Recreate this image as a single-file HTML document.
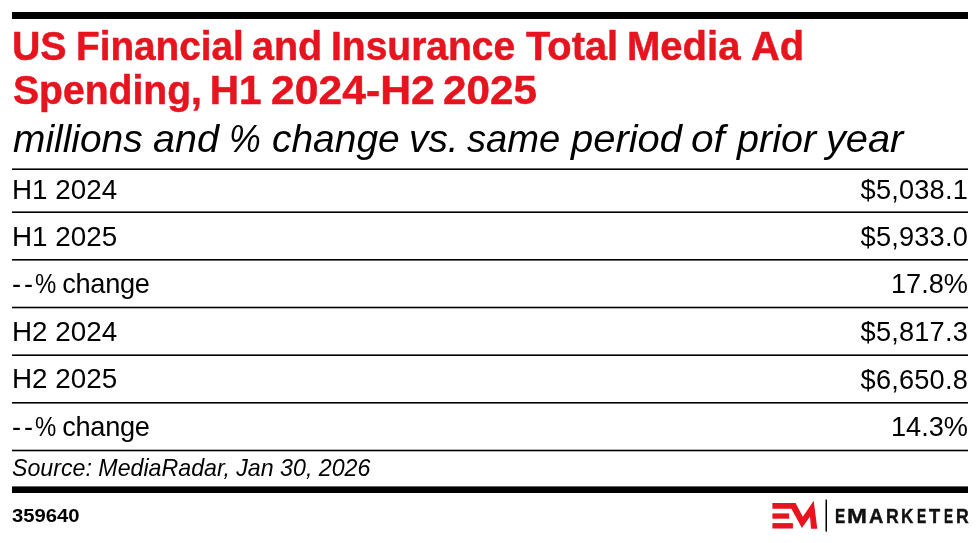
<!DOCTYPE html>
<html><head><meta charset="utf-8">
<style>
html,body{margin:0;padding:0;background:#fff;}
body{width:980px;height:543px;position:relative;overflow:hidden;will-change:transform;font-family:"Liberation Sans",sans-serif;color:#000;}
.a{position:absolute;white-space:nowrap;line-height:1;}
.bar{position:absolute;left:12px;width:956px;background:#000;}
.ln{position:absolute;left:12px;width:956px;height:1px;background:#000;}
.tl,.sl{position:absolute;left:0;top:0;width:980px;height:50px;line-height:1;white-space:nowrap;}
.tl span,.sl span{position:absolute;top:0;transform-origin:0 0;}
.tl{font-weight:bold;color:#e6141e;font-size:40.5px;-webkit-text-stroke:.5px #e6141e;}
.sl{font-style:italic;font-size:38.9px;}
.lab{font-size:27.8px;left:12px;letter-spacing:0;}
.val{font-size:27.2px;right:12px;text-align:right;letter-spacing:.2px;}
.src{font-style:italic;font-size:23.2px;left:12px;}
.emk{position:absolute;left:0;top:505.8px;line-height:1;font-size:20px;font-weight:bold;color:#111;-webkit-text-stroke:.4px #111;}
.emk span{position:absolute;top:0;transform-origin:0 0;}
</style></head><body>
<div class="bar" style="top:12px;height:7px"></div>

<div class="tl" style="top:25.7px"><span style="left:12.1px;transform:scaleX(0.970)">US</span><span style="left:75.7px;transform:scaleX(0.956)">Financial</span><span style="left:251.7px;transform:scaleX(0.975)">and</span><span style="left:331.1px;transform:scaleX(0.963)">Insurance</span><span style="left:525.6px;transform:scaleX(0.982)">Total</span><span style="left:626.8px;transform:scaleX(0.988)">Media</span><span style="left:750.6px;transform:scaleX(0.984)">Ad</span></div>
<div class="tl" style="top:69.7px"><span style="left:13.0px;transform:scaleX(0.965)">Spending,</span><span style="left:209.8px;transform:scaleX(1.000)">H1</span><span style="left:270.8px;transform:scaleX(1.054)">2024-H2</span><span style="left:443.0px;transform:scaleX(1.042)">2025</span></div>
<div class="sl" style="top:120.2px"><span style="left:13.0px;transform:scaleX(1.000)">millions</span><span style="left:153.0px;transform:scaleX(1.017)">and</span><span style="left:229.3px;transform:scaleX(0.919)">%</span><span style="left:271.5px;transform:scaleX(1.001)">change</span><span style="left:409.4px;transform:scaleX(0.998)">vs.</span><span style="left:467.1px;transform:scaleX(0.981)">same</span><span style="left:571.0px;transform:scaleX(1.026)">period</span><span style="left:691.0px;transform:scaleX(1.046)">of</span><span style="left:736.7px;transform:scaleX(1.016)">prior</span><span style="left:826.3px;transform:scaleX(1.022)">year</span></div>

<div class="ln" style="top:169px;box-shadow:0 -1px 0 rgba(0,0,0,.6)"></div>
<div class="a lab" style="top:175.9px">H1 2024</div><div class="a val" style="top:176.4px">$5,038.1</div>
<div class="ln" style="top:212px;box-shadow:0 -1px 0 rgba(0,0,0,.6)"></div>
<div class="a lab" style="top:222.6px">H1 2025</div><div class="a val" style="top:223.1px">$5,933.0</div>
<div class="ln" style="top:259px;box-shadow:0 1px 0 rgba(0,0,0,.6)"></div>
<div class="a lab" style="top:270.2px;font-size:27.2px;letter-spacing:-.3px"><span style="letter-spacing:3px">-</span><span style="letter-spacing:2px">-</span><span style="display:inline-block;transform:scaleX(.88);transform-origin:0 0;margin-right:-4px">%</span> change</div><div class="a val" style="top:270.2px;letter-spacing:0">17.8%</div>
<div class="ln" style="top:307px;box-shadow:0 1px 0 rgba(0,0,0,.3),0 -1px 0 rgba(0,0,0,.3)"></div>
<div class="a lab" style="top:317.9px">H2 2024</div><div class="a val" style="top:317.9px">$5,817.3</div>
<div class="ln" style="top:355px;box-shadow:0 -1px 0 rgba(0,0,0,.6)"></div>
<div class="a lab" style="top:365.1px">H2 2025</div><div class="a val" style="top:365.6px">$6,650.8</div>
<div class="ln" style="top:402px;box-shadow:0 1px 0 rgba(0,0,0,.6)"></div>
<div class="a lab" style="top:413.3px;font-size:27.2px;letter-spacing:-.3px"><span style="letter-spacing:3px">-</span><span style="letter-spacing:2px">-</span><span style="display:inline-block;transform:scaleX(.88);transform-origin:0 0;margin-right:-4px">%</span> change</div><div class="a val" style="top:413.3px;letter-spacing:0">14.3%</div>
<div class="ln" style="top:450px;box-shadow:0 1px 0 rgba(0,0,0,.3),0 -1px 0 rgba(0,0,0,.3)"></div>

<div class="a src" style="top:457px">Source: MediaRadar, Jan 30, 2026</div>
<div class="bar" style="top:487px;height:6px;box-shadow:0 -1px 0 rgba(0,0,0,.6)"></div>

<div class="a" style="top:506.8px;left:12px;font-size:18px;font-weight:bold;transform:scaleX(1.125);transform-origin:0 0">359640</div>

<svg style="position:absolute;left:0;top:0" width="980" height="543" viewBox="0 0 980 543">
  <g fill="#e6141e">
    <polygon points="772.4,503.1 795.6,503.1 802.8,516.8 813.7,500.8 817.3,528.7 811,528.7 810,516.6 801.9,528 791.4,508.7 772.4,508.7"/>
    <rect x="772.4" y="513.4" width="16.7" height="5.3"/>
    <rect x="772.4" y="523.1" width="20.5" height="5.4"/>
  </g>
  <rect x="825.5" y="499.6" width="1.5" height="32" fill="#000"/>
</svg>
<div class="emk"><span style="left:834.6px;transform:scaleX(0.767)">E</span><span style="left:847.0px;transform:scaleX(1.193)">M</span><span style="left:869.3px;transform:scaleX(0.993)">A</span><span style="left:886.0px;transform:scaleX(0.885)">R</span><span style="left:901.1px;transform:scaleX(0.857)">K</span><span style="left:916.9px;transform:scaleX(0.692)">E</span><span style="left:928.7px;transform:scaleX(0.915)">T</span><span style="left:943.6px;transform:scaleX(0.683)">E</span><span style="left:955.8px;transform:scaleX(0.885)">R</span></div>
</body></html>
